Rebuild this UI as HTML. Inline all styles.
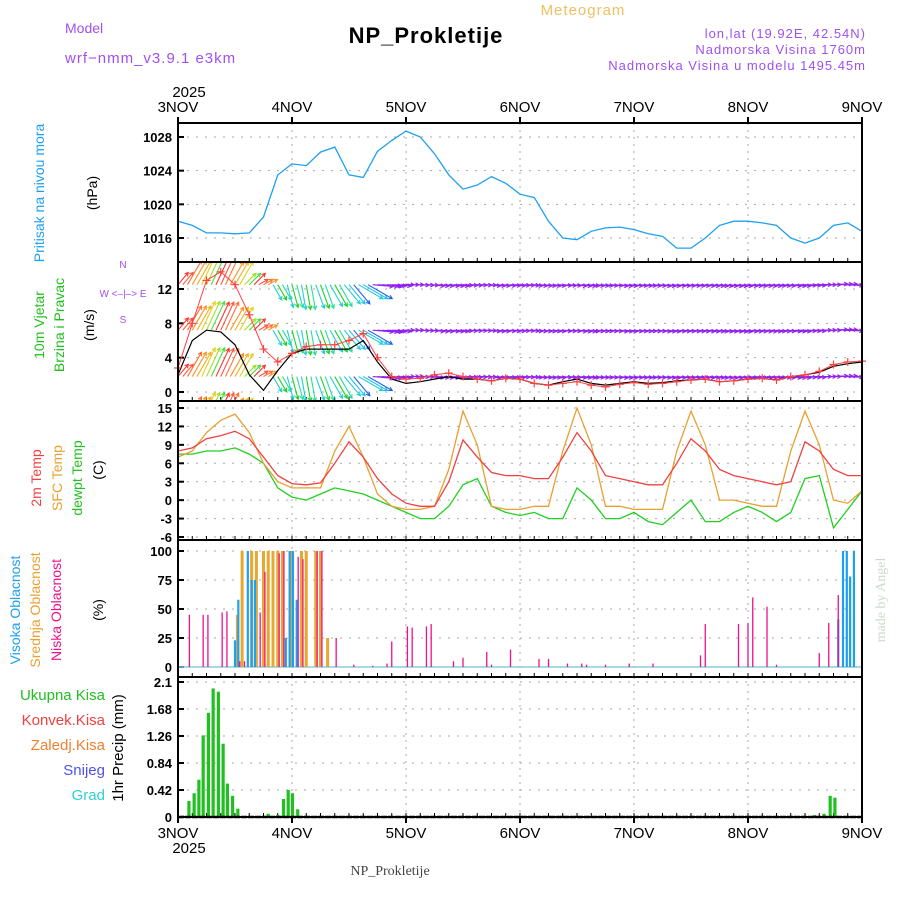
<!DOCTYPE html>
<html><head><meta charset="utf-8">
<style>
html,body{margin:0;padding:0;background:#fff;}
svg{display:block;font-family:"Liberation Sans",sans-serif;}
</style></head>
<body>
<svg id="c" width="900" height="900" viewBox="0 0 900 900" xmlns="http://www.w3.org/2000/svg">
<defs><clipPath id="wclip"><rect x="178" y="263" width="684" height="137"/></clipPath></defs>
<g id="hdr">
<text x="65" y="33" fill="#a050f0" font-size="14">Model</text>
<text x="65" y="63" fill="#a050f0" font-size="15" letter-spacing="1">wrf−nmm_v3.9.1  e3km</text>
<text x="426" y="43" text-anchor="middle" font-size="22" font-weight="bold" letter-spacing="1">NP_Prokletije</text>
<text x="583" y="15" text-anchor="middle" fill="#f0c060" font-size="15" letter-spacing="1">Meteogram</text>
<text x="866" y="38" text-anchor="end" fill="#a050f0" font-size="13" letter-spacing="1">lon,lat (19.92E, 42.54N)</text>
<text x="866" y="54" text-anchor="end" fill="#a050f0" font-size="13" letter-spacing="1">Nadmorska Visina 1760m</text>
<text x="866" y="70" text-anchor="end" fill="#a050f0" font-size="13" letter-spacing="1">Nadmorska Visina u modelu 1495.45m</text>
<text x="390" y="875" text-anchor="middle" fill="#444" font-size="14" font-family="Liberation Serif, serif">NP_Prokletije</text>
<text x="885" y="600" text-anchor="middle" fill="#c8dcc8" font-size="14" font-family="Liberation Serif, serif" transform="rotate(-90 885 600)">made by Angel</text>
</g>
<g id="plot"></g>
</svg>
<script>
const days=["3NOV","4NOV","5NOV","6NOV","7NOV","8NOV","9NOV"];
const pressure=[1018,1017.5,1016.6,1016.6,1016.5,1016.6,1018.5,1023.5,1024.8,1024.6,1026.2,1026.8,1023.5,1023.2,1026.3,1027.6,1028.7,1028,1026,1023.5,1021.8,1022.3,1023.3,1022.5,1021.2,1020.8,1018,1016,1015.8,1016.8,1017.2,1017.3,1017,1016.5,1016.2,1014.8,1014.8,1016,1017.5,1018,1018,1017.8,1017.5,1016,1015.4,1016,1017.5,1017.8,1016.8];
const pressTicks=[1016,1020,1024,1028];
const windSpeed=[2,6,7.2,7,5.5,2,0.2,2.5,4.5,5,5,5,5,6,3.5,1.5,1,1.2,1.5,1.8,1.5,1.5,1.3,1.6,1.5,1,0.8,1.2,1.5,1,0.8,1,1.2,1,1.1,1.3,1.4,1.5,1.2,1.3,1.5,1.6,1.4,1.8,2,2.3,3,3.3,3.5];
const gust=[2.8,8,13,14,12.5,9,5,3.5,4.5,5.3,5.5,5.5,6,6.8,4,1.8,1.5,1.6,2,2.2,1.8,1.5,1.3,1.6,1.5,1,0.8,1,1.2,0.8,0.6,0.9,1.1,0.9,1,1.2,1.4,1.5,1.2,1.3,1.5,1.6,1.4,1.8,2,2.4,3.2,3.5,3.6];
const windDir=[40,30,25,25,30,45,60,150,165,170,160,150,140,120,95,95,90,92,95,95,93,92,95,94,93,95,96,94,95,95,95,96,95,95,96,95,95,95,96,96,95,95,95,95,93,90,88,92,95];
const windTicks=[0,4,8,12];
const temp2m=[8,8.5,10,10.5,11.2,10,7,4,2.7,2.5,2.8,6,9.5,7,3.5,1,-0.5,-1,-1,3,9.8,7,4.5,4,4,3.5,3.5,7,11,8,4,3.5,3,2.5,2.5,6,10,8,5,4,3.5,3,2.5,3,9.5,8,5,4,4];
const tempSfc=[7,8,11,13,14,11,6,3,2,2,2,8,12,7,1,-1,-1.5,-1.5,-1,5,14.5,9,-1,-1.5,-1.5,-1,-1,8,15,9,-1,-1,-1.5,-1.5,-1.5,8,14.5,9,0,0,-0.5,-1,-1,8,14.5,9,0,-0.5,1.5];
const dewpt=[7.5,7.5,8,8,8.5,7.5,6,2,0.5,0,1,2,1.5,1,0,-1,-2,-3,-3,-1,2.5,3.5,-1,-2,-2.5,-2,-3,-3,2,0,-3,-3,-2,-3.5,-4,-2,0,-3.5,-3.5,-2,-1,-2,-3.5,-2,3.5,4,-4.5,-1.5,1.5];
const tempTicks=[-6,-3,0,3,6,9,12,15];
const lowHours=[2.4,5.3,6.3,9.3,10.3,13,14,17.3,18.3,21.3,22.3,25.3,26.3,29.3,30.3,33.3,37,41,44,45,48.3,49.3,52.3,53.3,58,60,65,66,70,76,78,82,85,86,90,95,100,110,111,118,120,121,124,126,135,137,139];
const lowVals=[45,45,45,47,48,5,5,47,82,98,100,95,93,100,100,25,2,1,3,22,35,34,35,37,5,8,13,2,15,7,7,3,3,2,2,3,3,10,37,37,38,60,52,2,12,38,62];
const midHours=[12.5,13.5,15.5,16.5,18,19,20,21,22,24,26,27,29,30,31.5];
const midVals=[45,100,100,100,100,100,100,100,100,100,100,100,100,100,25];
const highHours=[12,12.7,14.7,15.5,16.2,22.7,23.5,24.2,25,139,140,140.8,141.5,142.3];
const highVals=[23,58,100,75,75,25,100,100,58,41,100,100,78,100];
const precipHours=[1,2.3,3.4,4.4,5.3,6.4,7.4,8.5,9.5,10.4,11.5,12.6,19,21,22.2,23.2,24.1,25.2,134,136,137.3,138.3];
const precipVals=[0.02,0.25,0.37,0.58,1.27,1.62,2.0,1.95,1.14,0.52,0.33,0.13,0.05,0.03,0.28,0.42,0.37,0.12,0.03,0.05,0.33,0.3];
const precipTicks=[0,0.42,0.84,1.26,1.68,2.1];
const cloudTicks=[0,25,50,75,100];

const NS="http://www.w3.org/2000/svg";
const plot=document.getElementById('plot');
function mk(tag,attrs,parent){const e=document.createElementNS(NS,tag);for(const k in attrs)e.setAttribute(k,attrs[k]);(parent||plot).appendChild(e);return e;}
const X0=178,X1=862;
const xDay=d=>X0+(X1-X0)*d/6;
const x3h=i=>xDay(i/8);
const xHr=h=>xDay(h/24);
function lin(d0,d1,p0,p1){return v=>p0+(v-d0)*(p1-p0)/(d1-d0);}
const yP=lin(1016,1028,238,137);
const yW=lin(0,12,392,289);
const yT=lin(-6,15,537,408);
const yC=lin(0,100,667,551);
const yR=lin(0,2.1,817,682);
const panels=[[123,262],[262,401],[401,540],[540,677],[677,817]];

function grid(top,bot,ticks,yf,fmt,name){
  const g=mk('g',{});
  
  
  for(let d=1;d<6;d++){mk('line',{x1:xDay(d),x2:xDay(d),y1:top,y2:bot,stroke:'#aaa','stroke-dasharray':'2,5'},g);}
  ticks.forEach(t=>{const y=yf(t);
    mk('line',{x1:X0,x2:X1,y1:y,y2:y,stroke:'#aaa','stroke-dasharray':'2,7'},g);
    mk('line',{x1:X0,x2:X0+6,y1:y,y2:y,stroke:'#000','stroke-width':2},g);
    const tx=mk('text',{x:X0-6,y:y+5,'text-anchor':'end','font-size':13,'font-weight':'bold'},g);tx.textContent=fmt(t);
    
    
  });
  for(let i=1;i<48;i++){mk('line',{x1:x3h(i),x2:x3h(i),y1:bot,y2:bot-4,stroke:'#000'},g);}
}
grid(123,262,pressTicks,yP,String,'pressure');
grid(262,401,windTicks,yW,String,'wind');
grid(401,540,tempTicks,yT,String,'temperature');
grid(540,677,cloudTicks,yC,String,'cloud');
grid(677,817,precipTicks,yR,t=>t===0?'0':String(t),'precip');

function line(arr,yf,color,name,w){
  const pts=arr.map((v,i)=>x3h(i).toFixed(1)+','+yf(v).toFixed(1)).join(' ');
  const p=mk('polyline',{points:pts,fill:'none',stroke:color,'stroke-width':w||1.3});
  
  
}
line(pressure,yP,'#1ea0f0','pressure-line');

// wind arrows
const wg=mk('g',{'clip-path':'url(#wclip)'});


const warm=['#ff3030','#ff5040','#ff7030','#ff9020','#f0b020','#e0d020','#a0e020','#40e040'];
function dirColor(d,k){if(d<80)return warm[k%8];if(d<120)return '#9020f0';if(d<150)return ['#20c0f0','#2060f0','#20d0d0'][k%3];return ['#20d020','#20e0a0','#20d0d0'][k%3];}
const rows=[12.5,7.2,1.8,-3.4];
let k=0;
for(let h=0;h<=144;h+=1){
  const i=Math.min(48,Math.round(h/3));
  const d=windDir[i]*Math.PI/180, sp=windSpeed[i];
  const L=10+sp*3;
  const dx=Math.sin(d)*L, dy=-Math.cos(d)*L;
  const c=dirColor(windDir[i],k++);
  rows.forEach(r=>{
    const x=xHr(h), y=yW(r);
    const x2=x+dx, y2=y+dy;
    mk('line',{x1:x,y1:y,x2:x2,y2:y2,stroke:c,'stroke-width':1.1},wg);
    const a=Math.atan2(y2-y,x2-x);
    mk('polyline',{points:(x2-4*Math.cos(a-0.5))+','+(y2-4*Math.sin(a-0.5))+' '+x2+','+y2+' '+(x2-4*Math.cos(a+0.5))+','+(y2-4*Math.sin(a+0.5)),fill:'none',stroke:c,'stroke-width':1.1},wg);
  });
}
line(windSpeed,yW,'#000','wind-speed-line',1.2);
line(gust,yW,'#ff4040','wind-gust-line',1);
const gg=mk('g',{});


gust.forEach((v,i)=>{const x=x3h(i),y=yW(v);
  mk('path',{d:`M${x-4},${y}H${x+4}M${x},${y-4}V${y+4}`,stroke:'#ff4040','stroke-width':1.2},gg);});

line(dewpt,yT,'#20d020','dewpoint-line');
line(tempSfc,yT,'#e8a030','sfc-temp-line');
line(temp2m,yT,'#f04040','2m-temp-line');

function bars(hours,vals,yf,color,w,name){
  const g=mk('g',{});
  
  
  hours.forEach((h,k)=>{const x=xHr(h),y=yf(vals[k]),y0=yf(0);
    mk('rect',{x:x-w/2,y:y,width:w,height:Math.max(0,y0-y),fill:color},g);});
}
mk('line',{x1:X0,x2:X1,y1:667,y2:667,stroke:'#8cd','stroke-width':1.5});
bars(midHours,midVals,yC,'#e8a830',3,'mid-cloud-bars');
bars(highHours,highVals,yC,'#1ea0f0',2.2,'high-cloud-bars');
bars(lowHours,lowVals,yC,'#f0108a',1.3,'low-cloud-bars');
bars(precipHours,precipVals,yR,'#20c020',3.2,'precip-bars');

panels.forEach((p)=>{const r=mk('rect',{x:X0,y:p[0],width:X1-X0,height:p[1]-p[0],fill:'none',stroke:'#000','stroke-width':2});
  
  });
mk('line',{x1:X0,x2:X1,y1:817,y2:817,stroke:'#000','stroke-width':2.5,'stroke-dasharray':'6,1'});
days.forEach((d,k)=>{
  const t=mk('text',{x:xDay(k),y:112,'text-anchor':'middle','font-size':15});t.textContent=d;
  
  
  const b=mk('text',{x:xDay(k),y:838,'text-anchor':'middle','font-size':15});b.textContent=d;
  
  
  mk('line',{x1:xDay(k),x2:xDay(k),y1:117,y2:123,stroke:'#000','stroke-width':2});
  mk('line',{x1:xDay(k),x2:xDay(k),y1:817,y2:823,stroke:'#000','stroke-width':2});
});
function txt(s,x,y,c,size,rot,name,anchor){
  const t=mk('text',{x:x,y:y,fill:c,'font-size':size,'text-anchor':anchor||'middle'});
  if(rot)t.setAttribute('transform',`rotate(-90 ${x} ${y})`);
  t.textContent=s;
  
  
}
txt('2025',189,97,'#000',15,false,'top-year');
txt('2025',189,853,'#000',15,false,'bottom-year');
txt('Pritisak na nivou mora',44,193,'#1ea0f0',14,true,'pressure-title');
txt('(hPa)',97,193,'#000',14,true,'pressure-unit');
txt('10m Vjetar',44,325,'#20c020',14,true,'wind-title-1');
txt('Brzina i Pravac',64,325,'#20c020',14,true,'wind-title-2');
txt('(m/s)',94,325,'#000',14,true,'wind-unit');
txt('N',123,268,'#a050f0',10,false,'compass-n');
txt('W   <–|–>   E',123,297,'#a050f0',10,false,'compass-we');
txt('S',123,323,'#a050f0',10,false,'compass-s');
txt('2m Temp',41,478,'#f04040',14,true,'temp2m-title');
txt('SFC Temp',62,478,'#e8a030',14,true,'sfc-title');
txt('dewpt Temp',82,478,'#20c020',14,true,'dewpt-title');
txt('(C)',103,470,'#000',14,true,'temp-unit');
txt('Visoka Oblacnost',20,610,'#1ea0f0',14,true,'high-cloud-title');
txt('Srednja Oblacnost',40,610,'#e8a030',14,true,'mid-cloud-title');
txt('Niska Oblacnost',61,610,'#f0108a',14,true,'low-cloud-title');
txt('(%)',103,610,'#000',14,true,'cloud-unit');
txt('Ukupna Kisa',105,700,'#20c020',15,false,'legend-total-precip','end');
txt('Konvek.Kisa',105,725,'#f04040',15,false,'legend-convective','end');
txt('Zaledj.Kisa',105,750,'#f08030',15,false,'legend-freezing','end');
txt('Snijeg',105,775,'#5050f0',15,false,'legend-snow','end');
txt('Grad',105,800,'#30d0d0',15,false,'legend-hail','end');
txt('1hr Precip (mm)',123,748,'#000',15,true,'precip-unit');
</script>
</body></html>
